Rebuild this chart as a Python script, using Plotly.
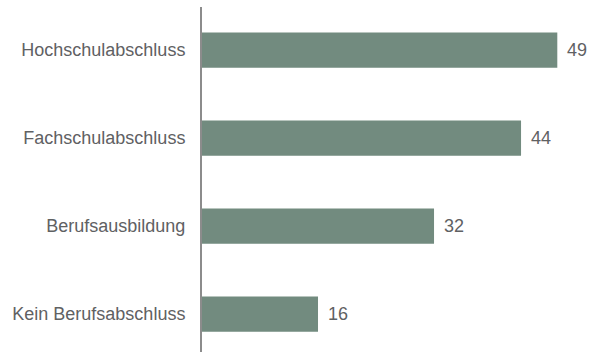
import plotly.graph_objects as go

categories = ["Hochschulabschluss", "Fachschulabschluss", "Berufsausbildung", "Kein Berufsabschluss"]
values = [49, 44, 32, 16]

bar_color = "#728b7f"
text_color = "#5f6163"
font_family = "Liberation Sans, Arial, sans-serif"

fig = go.Figure(
    go.Bar(
        x=values,
        y=categories,
        orientation="h",
        marker=dict(color=bar_color, line=dict(width=0)),
        hoverinfo="skip",
    )
)

# value labels to the right of each bar
for c, v in zip(categories, values):
    fig.add_annotation(
        x=v, y=c, text=str(v), showarrow=False,
        xanchor="left", xshift=8,
        font=dict(family=font_family, size=18, color=text_color),
    )

fig.update_layout(
    width=595, height=352,
    margin=dict(l=202, r=0, t=7, b=0),
    paper_bgcolor="white", plot_bgcolor="white",
    bargap=0.6,
    showlegend=False,
    font=dict(family=font_family, size=18, color=text_color),
    xaxis=dict(range=[0, 54.2], visible=False, showgrid=False, zeroline=False),
    yaxis=dict(
        type="category",
        range=[3.43, -0.489],
        showline=True, linecolor="#8c8c8c", linewidth=2,
        showgrid=False, zeroline=False,
        ticks="", ticklabelstandoff=11,
        tickfont=dict(family=font_family, size=18, color=text_color),
    ),
)

fig.write_html("out.html")
